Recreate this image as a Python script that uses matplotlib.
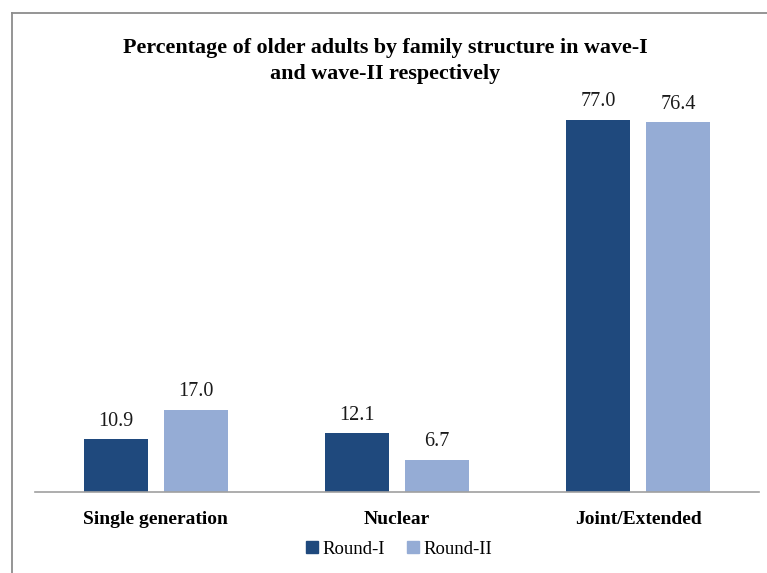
import matplotlib
matplotlib.use("Agg")
import matplotlib.pyplot as plt
from matplotlib.lines import Line2D
from matplotlib.patches import Patch
import numpy as np

categories = ["Single generation", "Nuclear", "Joint/Extended"]
series_names = ["Round-I", "Round-II"]
round1 = [10.9, 12.1, 77.0]
round2 = [17.0, 6.7, 76.4]
colors = ["#1F497D", "#95ACD5"]
title = "Percentage of older adults by family structure in wave-I\nand wave-II respectively"

W, H = 767, 573
fig = plt.figure(figsize=(W / 100, H / 100), dpi=100)
serif = ["Liberation Serif", "DejaVu Serif"]

ax = fig.add_axes([35 / W, 81 / H, 724 / W, 387 / H])
x = np.arange(len(categories))
bw = 0.265
off = 0.166
b1 = ax.bar(x - off, round1, bw, color=colors[0], label=series_names[0])
b2 = ax.bar(x + off, round2, bw, color=colors[1], label=series_names[1])
for bars, vals in ((b1, round1), (b2, round2)):
    for r, v in zip(bars, vals):
        ax.annotate(f"{v:.1f}", (r.get_x() + r.get_width() / 2, v),
                    xytext=(0, 6), textcoords="offset points",
                    ha="center", va="bottom", fontsize=14.5, family=serif,
                    color="#1a1a1a")

ax.set_xlim(-0.5, len(categories) - 0.5)
ax.set_ylim(0, 80)
for s in ("left", "right", "top"):
    ax.spines[s].set_visible(False)
ax.spines["bottom"].set_color("#A0A0A0")
ax.spines["bottom"].set_linewidth(1.2)
ax.set_yticks([])
ax.set_xticks(x)
ax.set_xticklabels(categories, fontsize=14, fontweight="bold", family=serif)
ax.tick_params(axis="x", length=0, pad=14)

fig.text(385 / W, 1 - 61 / H, title, ha="center", va="center",
         fontsize=15.8, fontweight="bold", family=serif, linespacing=1.35)

leg = fig.legend(handles=[Patch(color=colors[0]), Patch(color=colors[1])],
                 labels=series_names, loc="center", bbox_to_anchor=(399 / W, 1 - 549 / H),
                 ncol=2, frameon=False, prop={"family": serif, "size": 13.5},
                 handlelength=0.65, handleheight=0.65, handletextpad=0.2,
                 columnspacing=1.2)

fig.add_artist(Line2D([12 / W, 12 / W], [0, 1 - 13 / H], transform=fig.transFigure,
                      color="#8C8C8C", lw=1.3))
fig.add_artist(Line2D([12 / W, 1], [1 - 13 / H, 1 - 13 / H], transform=fig.transFigure,
                      color="#8C8C8C", lw=1.3))

fig.savefig("out.png", dpi=100, facecolor="white")
